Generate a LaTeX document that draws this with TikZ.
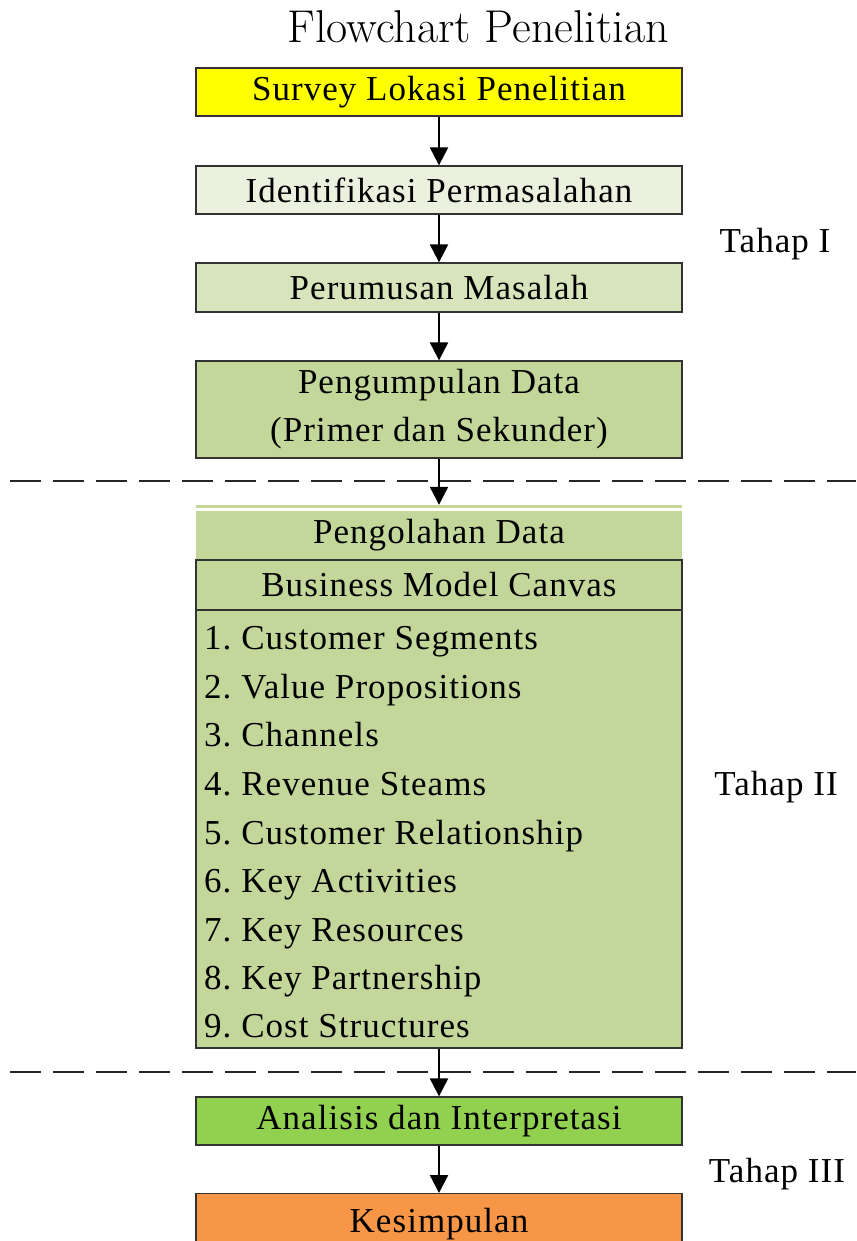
\documentclass[tikz,border=0pt]{standalone}
\usepackage{fontspec}
\newfontfamily\tnr[LetterSpace=3]{Liberation Serif}
\usetikzlibrary{arrows.meta}
\definecolor{cyel}{HTML}{FFFF00}
\definecolor{cpale}{HTML}{EBF1DE}
\definecolor{clight}{HTML}{D8E4BC}
\definecolor{cmid}{HTML}{C4D79B}
\definecolor{cgreen}{HTML}{92D050}
\definecolor{corange}{HTML}{F79646}
\definecolor{cborder}{HTML}{333333}
\begin{document}
\frenchspacing
\begin{tikzpicture}[x=1pt,y=-1pt,
  box/.style={draw=cborder, line width=1.3pt, minimum width=486pt, inner sep=0pt,
    font=\tnr\fontsize{35}{48}\selectfont, align=center},
  plain/.style={inner sep=0pt, minimum width=486pt, font=\tnr\fontsize{35}{48}\selectfont},
  item/.style={inner sep=0pt, anchor=base west, font=\tnr\fontsize{35}{48}\selectfont},
  lbl/.style={inner sep=0pt, anchor=base, font=\tnr\fontsize{35}{48}\selectfont},
  arr/.style={-{Triangle[width=18pt,length=18pt]}, line width=2.2pt},
  dline/.style={line width=2.6pt, dash pattern=on 31pt off 12pt, draw=black!85}]
\useasboundingbox (0,0) rectangle (856,1241);
\node[inner sep=0pt, anchor=base, text=black, font=\fontsize{46}{48}\selectfont] (title) at (478,43) {Flowchart Penelitian};
\node[box, fill=cyel, minimum height=48pt] (survey) at (439,92) {Survey Lokasi Penelitian};
\node[box, fill=cpale, minimum height=48pt] (ident) at (439,190) {Identifikasi Permasalahan};
\node[box, fill=clight, minimum height=49pt] (rumus) at (439,287.5) {Perumusan Masalah};
\node[box, fill=cmid, minimum height=97pt] (kumpul) at (439,409.5) {Pengumpulan Data\\(Primer dan Sekunder)};
\node[plain, fill=cmid, minimum height=3pt] (olahtop) at (439,506.5) {};
\node[plain, fill=cmid, minimum height=49pt] (olah) at (439,535.5) {Pengolahan Data};
\node[box, fill=cmid, minimum height=50pt] (bmc) at (439,585) {Business Model Canvas};
\node[box, fill=cmid, minimum height=438pt] (list) at (439,829) {};
\foreach \i/\t/\y in {1/Customer Segments/637, 2/Value Propositions/686, 3/Channels/734,
  4/Revenue Steams/783, 5/Customer Relationship/832, 6/Key Activities/880,
  7/Key Resources/929, 8/Key Partnership/977, 9/Cost Structures/1025}
  \node[item] (item\i) at (204,\y+12) {\i. \t};
\node[box, fill=cgreen, minimum height=48pt] (anal) at (439,1121) {Analisis dan Interpretasi};
\node[box, fill=corange, minimum height=54pt, anchor=north] (simpul) at (439,1193) {};
\node[lbl] (simpultext) at (439,1232) {Kesimpulan};
\node[lbl] (t1) at (775,252) {Tahap I};
\node[lbl] (t2) at (776,795) {Tahap II};
\node[lbl] (t3) at (777,1182) {Tahap III};
\coordinate (d1a) at (10,481);
\coordinate (d1b) at (856,481);
\coordinate (d2a) at (10,1072);
\coordinate (d2b) at (856,1072);
\draw[dline] (d1a) -- (d1b);
\draw[dline] (d2a) -- (d2b);
\draw[arr] (survey.south) -- (ident.north);
\draw[arr] (ident.south) -- (rumus.north);
\draw[arr] (rumus.south) -- (kumpul.north);
\draw[arr] (kumpul.south) -- (olahtop.north);
\draw[arr] (list.south) -- (anal.north);
\draw[arr] (anal.south) -- (simpul.north);
\end{tikzpicture}
\end{document}
